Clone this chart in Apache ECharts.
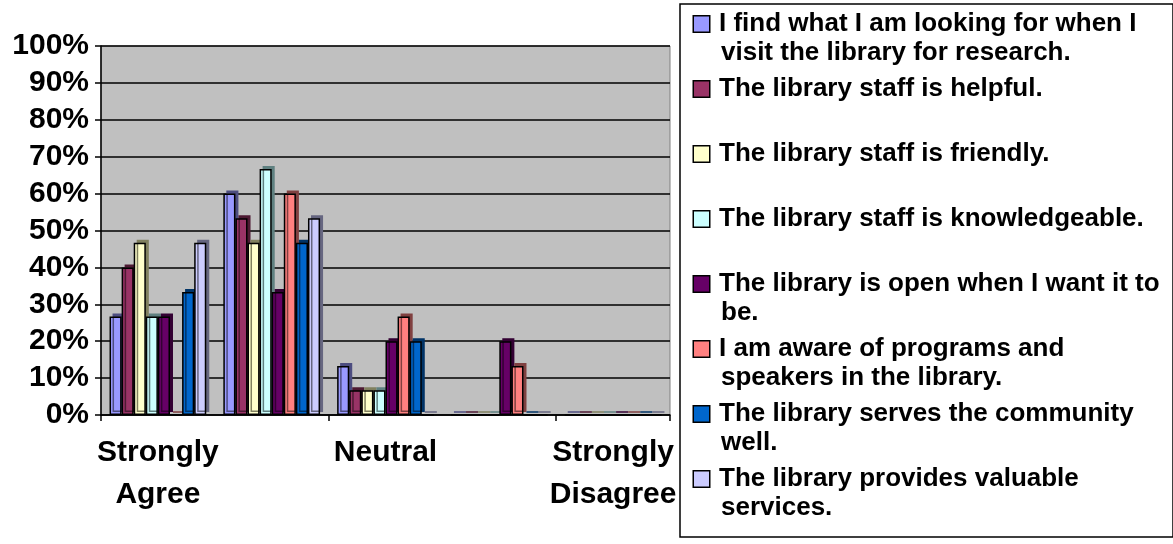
<!DOCTYPE html>
<html>
<head>
<meta charset="utf-8">
<script src="https://cdn.jsdelivr.net/npm/echarts@6/dist/echarts.min.js"></script>
<style>
  html, body { margin: 0; padding: 0; background: #fff; }
  #chart { width: 1173px; height: 544px; }
</style>
</head>
<body>
<div id="chart"></div>
<script>
// categories on the x axis
const categories = ["Strongly Agree", "Agree", "Neutral", "Disagree", "Strongly Disagree"];
const yTicks = [0, 10, 20, 30, 40, 50, 60, 70, 80, 90, 100];

// legend text, split the way the legend wraps it
const statements = [
  ["I find what I am looking for when I", "visit the library for research."],
  ["The library staff is helpful.", ""],
  ["The library staff is friendly.", ""],
  ["The library staff is knowledgeable.", ""],
  ["The library is open when I want it to", "be."],
  ["I am aware of programs and", "speakers in the library."],
  ["The library serves the community", "well."],
  ["The library provides valuable", "services."]
];

// percent of answers per statement, one value per category
const findResearch       = [26.7, 60.0, 13.3, 0, 0];
const staffHelpful       = [40.0, 53.3, 6.7, 0, 0];
const staffFriendly      = [46.7, 46.7, 6.7, 0, 0];
const staffKnowledgeable = [26.7, 66.7, 6.7, 0, 0];
const openWhenWanted     = [26.7, 33.3, 20.0, 20.0, 0];
const awarePrograms      = [0, 60.0, 26.7, 13.3, 0];
const servesCommunity    = [33.3, 46.7, 20.0, 0, 0];
const valuableServices   = [46.7, 53.3, 0, 0, 0];

const seriesValues = [findResearch, staffHelpful, staffFriendly, staffKnowledgeable,
  openWhenWanted, awarePrograms, servesCommunity, valuableServices];

const colors = ["#9999FF", "#993366", "#FFFFCC", "#CCFFFF", "#660066", "#FF8080", "#0066CC", "#CCCCFF"];
const sideColors = ["#4d4d80", "#4d1a33", "#80805f", "#5f8080", "#330033", "#804040", "#003366", "#666680"];

const font = "'Liberation Sans', Arial, sans-serif";
const names = statements.map(s => (s[0] + " " + s[1]).trim());

// rich styles for the legend squares
let rich = {
  t: { fontSize: 26, fontWeight: "bold", fontFamily: font, color: "#000", lineHeight: 29, width: 444 },
  gap: { width: 10, height: 16 },
  blank: { width: 27, height: 16 }
};
colors.forEach((c, i) => {
  rich["c" + i] = { width: 15, height: 15, backgroundColor: c, borderColor: "#000", borderWidth: 1.5 };
});

let chart = echarts.init(document.getElementById("chart"));
let option = {
  backgroundColor: "#fff",
  animation: false,
  grid: {
    left: 101, right: 503, top: 46, bottom: 129,
    show: true, backgroundColor: "#C0C0C0", borderColor: "#808080", borderWidth: 1
  },
  legend: {
    orient: "vertical",
    left: 680, top: 4,
    itemWidth: 0, itemHeight: 0,
    itemGap: 10,
    padding: [7, 8, 16, 8],
    backgroundColor: "#fff",
    borderColor: "#000", borderWidth: 1.5,
    data: names,
    selectedMode: false,
    formatter: function (name) {
      let i = names.indexOf(name);
      let s = statements[i];
      return "{c" + i + "|}{gap|}{t|" + s[0] + "}\n{blank|}{t|" + (s[1] || " ") + "}";
    },
    textStyle: { rich: rich }
  },
  xAxis: {
    type: "category",
    data: categories,
    axisLine: { lineStyle: { color: "#000", width: 1.5 } },
    axisTick: { show: true, length: 6, lineStyle: { color: "#000", width: 1.5 } },
    axisLabel: {
      interval: 1,
      margin: 17,
      fontSize: 30, fontWeight: "bold", fontFamily: font, color: "#000", lineHeight: 42,
      formatter: v => v.replace(" ", "\n")
    }
  },
  yAxis: {
    type: "value",
    min: yTicks[0], max: yTicks[yTicks.length - 1], interval: 10,
    axisLine: { show: true, lineStyle: { color: "#000", width: 1.5 } },
    axisTick: { show: true, length: 6, lineStyle: { color: "#000", width: 1.5 } },
    splitLine: { lineStyle: { color: "#000", width: 1.5 } },
    axisLabel: {
      margin: 12,
      fontSize: 30, fontWeight: "bold", fontFamily: font, color: "#000",
      formatter: "{value}%"
    }
  },
  series: seriesValues.map((vals, i) => ({
    name: names[i],
    type: "bar",
    data: vals,
    barGap: "0%",
    barCategoryGap: "15%",
    itemStyle: {
      color: colors[i],
      borderColor: "#000",
      borderWidth: 1.5,
      shadowColor: sideColors[i],
      shadowBlur: 0,
      shadowOffsetX: 3,
      shadowOffsetY: -3
    }
  }))
};
chart.setOption(option);
</script>
</body>
</html>
